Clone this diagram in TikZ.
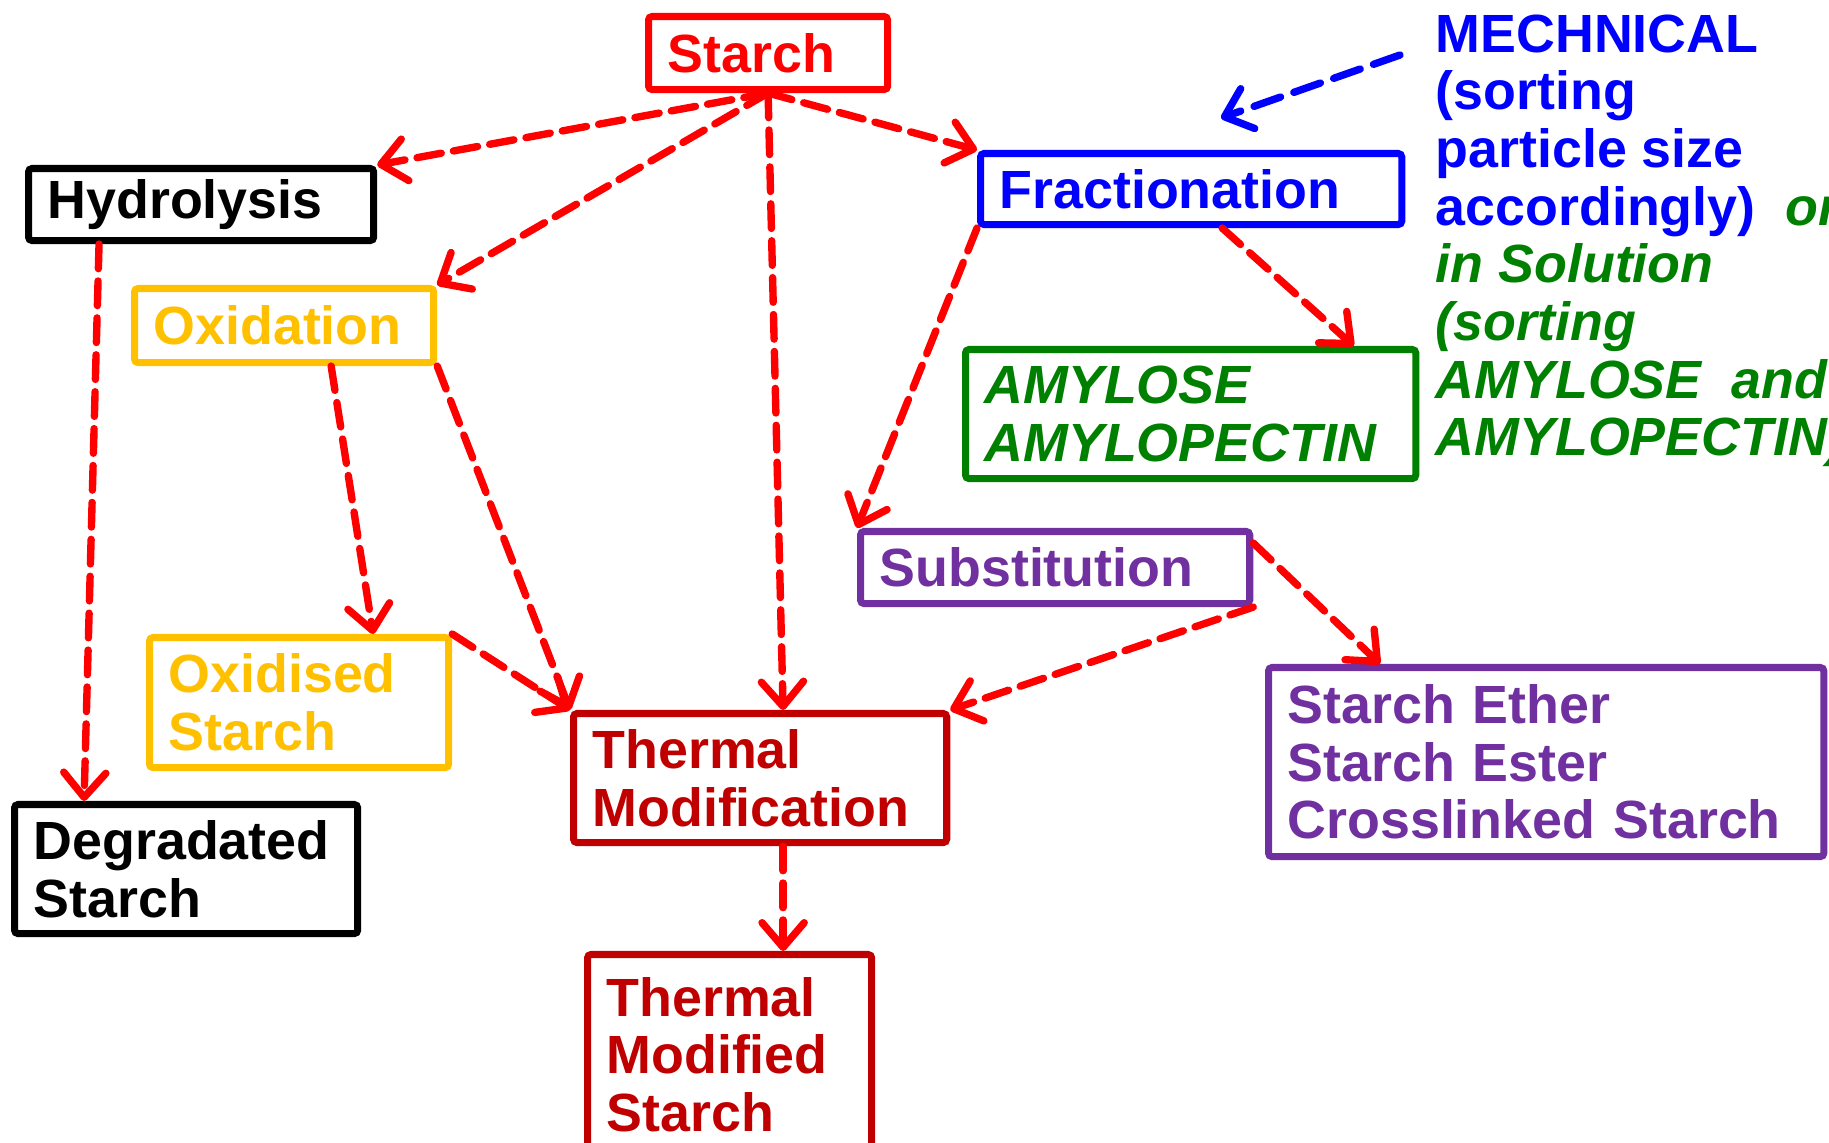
\documentclass[tikz,border=0pt]{standalone}
\usepackage{fontspec}
\setmainfont{Liberation Sans}
\usepackage{xcolor}
\usepackage{tikz}
\usetikzlibrary{arrows.meta, positioning}
\definecolor{starchred}{RGB}{255,0,0}
\definecolor{oxidyellow}{RGB}{255,192,0}
\definecolor{fracblue}{RGB}{0,0,255}
\definecolor{amylgreen}{RGB}{0,128,0}
\definecolor{substpurple}{RGB}{112,48,160}
\definecolor{thermred}{RGB}{192,0,0}
\newcommand{\diafont}{\fontsize{15.3}{16.4}\selectfont\bfseries}
\tikzset{
  box/.style={rectangle, rounded corners=1pt, line width=2pt, fill=white, anchor=north west,
              align=left, inner xsep=0.19cm, inner ysep=0pt, font=\diafont},
  flow/.style={draw=starchred, line width=2.1pt, line cap=round, dash pattern=on 7pt off 3.5pt,
               -{Straight Barb[round,length=7pt,width=12pt]}},
  mecharr/.style={flow, draw=fracblue, dash pattern=on 8pt off 4pt},
}

\begin{document}
\begin{tikzpicture}[x=0.01cm, y=-0.01cm]
\useasboundingbox (0,0) rectangle (1829,1143);
\clip (0,0) rectangle (1829,1143);

% Boxes
\node[box, draw=starchred, text=starchred, text width=2.01cm, minimum height=0.73cm] (starch) at (645,13) {Starch};
\node[box, draw=black, text=black, text width=3.07cm, minimum height=0.72cm] (hydro) at (25,165) {Hydrolysis};
\node[box, draw=oxidyellow, text=oxidyellow, text width=2.61cm, minimum height=0.74cm] (oxid) at (131,285) {Oxidation};
\node[box, draw=fracblue, text=fracblue, text width=3.83cm, minimum height=0.71cm] (frac) at (977,150) {Fractionation};
\node[box, draw=amylgreen, text=amylgreen, text width=4.12cm, minimum height=1.29cm, font=\diafont\itshape] (amyl) at (962,346) {AMYLOSE\\AMYLOPECTIN};
\node[box, draw=substpurple, text=substpurple, text width=3.51cm, minimum height=0.72cm] (subst) at (857,528) {Substitution};
\node[box, draw=oxidyellow, text=oxidyellow, text width=2.61cm, minimum height=1.30cm] (oxidised) at (146,634) {Oxidised\\Starch};
\node[box, draw=thermred, text=thermred, text width=3.35cm, minimum height=1.29cm] (therm) at (570,710) {Thermal\\Modification};
\node[box, draw=black, text=black, text width=3.05cm, minimum height=1.29cm] (degr) at (11,801) {Degradated\\Starch};
\node[box, draw=substpurple, text=substpurple, text width=5.17cm, minimum height=1.89cm] (ether) at (1265,664) {Starch Ether\\Starch Ester\\Crosslinked Starch};
\node[box, draw=thermred, text=thermred, text width=2.46cm, minimum height=2.00cm] (tms) at (584,951) {Thermal\\Modified\\Starch};

% Note
\node[anchor=north west, inner sep=0pt, align=left, font=\diafont, text=fracblue] (note) at (1435,14)
  {MECHNICAL\\(sorting\\particle size\\accordingly) \textcolor{amylgreen}{\itshape\ or}\\
   \textcolor{amylgreen}{\itshape in Solution}\\\textcolor{amylgreen}{\itshape (sorting}\\
   \textcolor{amylgreen}{\itshape AMYLOSE\ \ and}\\\textcolor{amylgreen}{\itshape AMYLOPECTIN)}};
\coordinate (mechtip) at (1221,118);
\draw[mecharr] ([shift={(-0.35cm,-0.41cm)}]note.north west) -- (mechtip);

% Arrows
\draw[flow] (starch.south) -- (hydro.north east);
\draw[flow] (starch.south) -- (oxid.north east);
\draw[flow] (starch.south) -- ([xshift=0.23cm]therm.north);
\draw[flow] (starch.south) -- (frac.north west);
\draw[flow] ([xshift=0.74cm]hydro.south west) -- ([xshift=0.73cm]degr.north west);
\draw[flow] ([xshift=0.47cm]oxid.south) -- ([xshift=0.74cm]oxidised.north);
\draw[flow] (oxid.south east) -- (therm.north west);
\draw[flow] (oxidised.north east) -- (therm.north west);
\draw[flow] ([xshift=0.31cm]frac.south) -- ([xshift=1.63cm]amyl.north);
\draw[flow] (frac.south west) -- (subst.north west);
\draw[flow] ([yshift=-0.15cm]subst.north east) -- ([xshift=1.15cm]ether.north west);
\draw[flow] (subst.south east) -- (therm.north east);
\draw[flow] ([xshift=0.23cm]therm.south) -- ([xshift=0.23cm]therm.south |- tms.north);

\end{tikzpicture}
\end{document}
